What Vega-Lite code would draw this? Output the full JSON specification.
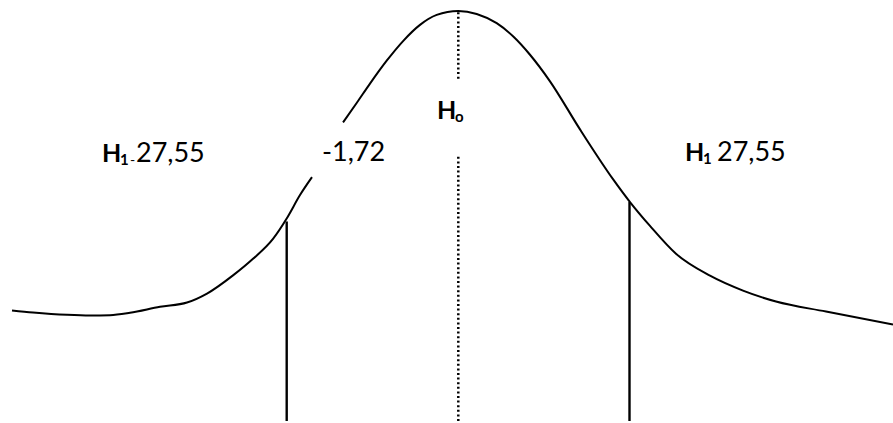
{
  "$schema": "https://vega.github.io/schema/vega-lite/v6.json",
  "width": 893,
  "height": 423,
  "autosize": {"type": "fit", "contains": "padding"},
  "padding": 0,
  "background": "white",
  "config": {"view": {"stroke": null}},
  "datasets": {
    "curve": [
      {"seg": "a", "x": 12, "y": 111},
      {"seg": "a", "x": 33, "y": 109},
      {"seg": "a", "x": 67, "y": 106.7},
      {"seg": "a", "x": 90, "y": 106},
      {"seg": "a", "x": 110, "y": 106.3},
      {"seg": "a", "x": 130, "y": 108.7},
      {"seg": "a", "x": 160, "y": 114.7},
      {"seg": "a", "x": 187, "y": 119},
      {"seg": "a", "x": 207, "y": 128},
      {"seg": "a", "x": 233, "y": 146.3},
      {"seg": "a", "x": 253, "y": 163},
      {"seg": "a", "x": 273, "y": 183},
      {"seg": "a", "x": 287, "y": 204},
      {"seg": "a", "x": 300, "y": 227},
      {"seg": "a", "x": 312, "y": 245},
      {"seg": "b", "x": 343, "y": 300},
      {"seg": "b", "x": 357, "y": 320},
      {"seg": "b", "x": 370, "y": 339},
      {"seg": "b", "x": 386.7, "y": 362},
      {"seg": "b", "x": 403.3, "y": 382},
      {"seg": "b", "x": 420, "y": 398},
      {"seg": "b", "x": 436.7, "y": 408},
      {"seg": "b", "x": 458.3, "y": 412},
      {"seg": "b", "x": 476.7, "y": 409},
      {"seg": "b", "x": 496.7, "y": 399.7},
      {"seg": "b", "x": 513.3, "y": 386.3},
      {"seg": "b", "x": 530, "y": 368},
      {"seg": "b", "x": 550, "y": 341.3},
      {"seg": "b", "x": 580, "y": 293},
      {"seg": "b", "x": 613, "y": 243},
      {"seg": "b", "x": 630, "y": 220},
      {"seg": "b", "x": 650, "y": 196},
      {"seg": "b", "x": 676, "y": 168},
      {"seg": "b", "x": 710, "y": 146},
      {"seg": "b", "x": 743, "y": 131},
      {"seg": "b", "x": 776, "y": 120},
      {"seg": "b", "x": 826, "y": 110},
      {"seg": "b", "x": 893, "y": 97}
    ],
    "cuts": [
      {"x": 286.7, "y": 0, "y2": 200.5},
      {"x": 629.5, "y": 0, "y2": 220}
    ],
    "center": [
      {"x": 458.3, "y": 344, "y2": 411},
      {"x": 458.3, "y": 0, "y2": 266}
    ],
    "bigBold": [
      {"x": 102, "y": 260, "t": "H"},
      {"x": 437, "y": 303, "t": "H"},
      {"x": 685, "y": 261, "t": "H"}
    ],
    "subBold": [
      {"x": 120, "y": 257, "t": "1"},
      {"x": 455, "y": 300, "t": "o"},
      {"x": 703, "y": 258, "t": "1"}
    ],
    "smallReg": [
      {"x": 130, "y": 257, "t": "-"}
    ],
    "regular": [
      {"x": 136, "y": 260, "t": "27,55"},
      {"x": 322, "y": 261, "t": "-1,72"},
      {"x": 717, "y": 261, "t": "27,55"}
    ]
  },
  "encoding": {
    "x": {"field": "x", "type": "quantitative", "scale": {"domain": [0, 893], "nice": false, "zero": false}, "axis": null},
    "y": {"field": "y", "type": "quantitative", "scale": {"domain": [0, 423], "nice": false, "zero": false}, "axis": null}
  },
  "layer": [
    {
      "data": {"name": "curve"},
      "mark": {"type": "line", "interpolate": "monotone", "color": "black", "strokeWidth": 2, "clip": true},
      "encoding": {"detail": {"field": "seg", "type": "nominal"}}
    },
    {
      "data": {"name": "cuts"},
      "mark": {"type": "rule", "color": "black", "strokeWidth": 2.4},
      "encoding": {"y2": {"field": "y2"}}
    },
    {
      "data": {"name": "center"},
      "mark": {"type": "rule", "color": "black", "strokeWidth": 2.5, "strokeDash": [2, 2.6]},
      "encoding": {"y2": {"field": "y2"}}
    },
    {
      "data": {"name": "bigBold"},
      "mark": {"type": "text", "align": "left", "baseline": "alphabetic", "font": "Lato", "fontWeight": "bold", "fontSize": 25, "color": "black"},
      "encoding": {"text": {"field": "t"}}
    },
    {
      "data": {"name": "subBold"},
      "mark": {"type": "text", "align": "left", "baseline": "alphabetic", "font": "Lato", "fontWeight": "bold", "fontSize": 15, "color": "black"},
      "encoding": {"text": {"field": "t"}}
    },
    {
      "data": {"name": "smallReg"},
      "mark": {"type": "text", "align": "left", "baseline": "alphabetic", "font": "Lato", "fontSize": 14, "color": "black"},
      "encoding": {"text": {"field": "t"}}
    },
    {
      "data": {"name": "regular"},
      "mark": {"type": "text", "align": "left", "baseline": "alphabetic", "font": "Lato", "fontSize": 27, "color": "black"},
      "encoding": {"text": {"field": "t"}}
    }
  ]
}
